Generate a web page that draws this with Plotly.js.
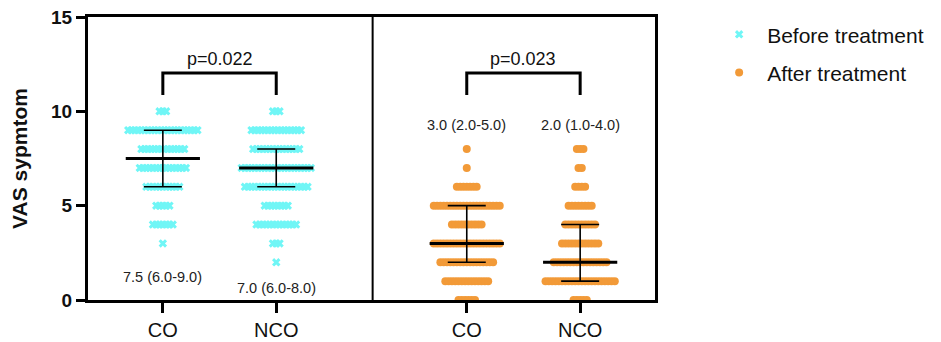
<!DOCTYPE html>
<html>
<head>
<meta charset="utf-8">
<script src="https://cdn.plot.ly/plotly-3.0.1.min.js"></script>
<style>html,body{margin:0;padding:0;background:#fff;}#chart{width:941px;height:342px;}</style>
</head>
<body>
<div id="chart"></div>
<script>
// ---- data ----
const groupLabels = ['CO', 'NCO', 'CO', 'NCO'];
const groupPos = [1, 2, 3.68, 4.68];
const vasLevels = [0, 1, 2, 3, 4, 5, 6, 7, 8, 9, 10];
// number of patients at each VAS level (index = VAS score)
const beforeCO  = [0, 0, 0, 1, 7, 5, 11, 15, 14, 22, 3];
const beforeNCO = [0, 0, 1, 3, 13, 8, 20, 22, 15, 16, 3];
const afterCO   = [6, 14, 17, 21, 10, 21, 7, 1, 1, 0, 0];
const afterNCO  = [5, 22, 17, 12, 10, 8, 4, 2, 3, 0, 0];
const medians = [7.5, 7.0, 3.0, 2.0];
const q1 = [6.0, 6.0, 2.0, 1.0];
const q3 = [9.0, 8.0, 5.0, 4.0];
const summaryText = ['7.5 (6.0-9.0)', '7.0 (6.0-8.0)', '3.0 (2.0-5.0)', '2.0 (1.0-4.0)'];
const pValues = ['p=0.022', 'p=0.023'];

const CYAN = '#70F6F6';
const ORANGE = '#F29A38';
const STEP = 3.3 / 113.5; // horizontal spacing of points (axis units)

function swarm(counts, center) {
  const xs = [], ys = [];
  counts.forEach((n, k) => {
    for (let i = 0; i < n; i++) {
      xs.push(center + (i - (n - 1) / 2) * STEP);
      ys.push(vasLevels[k]);
    }
  });
  return {xs, ys};
}

const sets = [beforeCO, beforeNCO, afterCO, afterNCO];
const traces = [];
sets.forEach((counts, g) => {
  const s = swarm(counts, groupPos[g]);
  const before = g < 2;
  traces.push({
    type: 'scatter', mode: 'markers', x: s.xs, y: s.ys,
    name: before ? 'Before treatment' : 'After treatment',
    legendgroup: before ? 'b' : 'a',
    showlegend: g === 0 || g === 2,
    marker: before
      ? {symbol: 'x', size: 7.5, color: CYAN, line: {width: 0}}
      : {symbol: 'circle', size: 8, color: ORANGE, line: {width: 0}},
    hoverinfo: 'skip'
  });
});
// medians with interquartile range
traces.push({
  type: 'scatter', mode: 'markers', x: groupPos, y: medians, showlegend: false,
  marker: {symbol: 'line-ew', size: 53, line: {width: 3, color: '#000'}},
  error_y: {type: 'data', symmetric: false,
    array: q3.map((v, i) => v - medians[i]),
    arrayminus: medians.map((v, i) => v - q1[i]),
    width: 19, thickness: 1.6, color: '#000'},
  hoverinfo: 'skip'
});

const shapes = [
  {type: 'line', xref: 'x', yref: 'paper', x0: 2.85, x1: 2.85, y0: 0, y1: 1, line: {color: '#000', width: 2}}
];
const bracketTop = 12.03, bracketEnd = 10.86;
[[0, 1], [2, 3]].forEach(([a, b]) => {
  shapes.push({type: 'path', xref: 'x', yref: 'y',
    path: `M${groupPos[a]},${bracketEnd} L${groupPos[a]},${bracketTop} L${groupPos[b]},${bracketTop} L${groupPos[b]},${bracketEnd}`,
    line: {color: '#000', width: 3}});
});

const annotations = [];
[[0, 1], [2, 3]].forEach(([a, b], k) => {
  annotations.push({xref: 'x', yref: 'y', x: (groupPos[a] + groupPos[b]) / 2, y: bracketTop,
    yanchor: 'bottom', yshift: 2, text: pValues[k], showarrow: false,
    font: {size: 18, color: '#111'}});
});
const summaryY = [1.22, 0.64, 9.27, 9.27];
summaryText.forEach((t, i) => {
  annotations.push({xref: 'x', yref: 'y', x: groupPos[i], y: summaryY[i], text: t,
    showarrow: false, font: {size: 14.5, color: '#222'}});
});

const layout = {
  width: 941, height: 342,
  margin: {l: 88, r: 286, t: 17, b: 42, pad: 0},
  paper_bgcolor: '#fff', plot_bgcolor: '#fff',
  font: {family: 'Liberation Sans, Arial, sans-serif', color: '#000'},
  showlegend: true,
  legend: {x: 1.099, xanchor: 'left', y: 1.01, yanchor: 'top', font: {size: 21, color: '#111'},
    tracegroupgap: 8, itemwidth: 46, bgcolor: 'rgba(0,0,0,0)'},
  xaxis: {range: [0.34, 5.34], tickmode: 'array', tickvals: groupPos, ticktext: groupLabels,
    showgrid: false, zeroline: false, showline: true, linewidth: 3, linecolor: '#000', mirror: true,
    ticks: 'outside', ticklen: 10, tickwidth: 3, tickcolor: '#000',
    tickfont: {size: 20, color: '#111'}},
  yaxis: {range: [0, 15], tickmode: 'array', tickvals: [0, 5, 10, 15],
    showgrid: false, zeroline: false, showline: true, linewidth: 3, linecolor: '#000', mirror: true,
    ticks: 'outside', ticklen: 9, tickwidth: 3, tickcolor: '#000',
    tickfont: {size: 19, weight: 'bold', color: '#111'},
    title: {text: 'VAS sypmtom', font: {size: 21, weight: 'bold', color: '#111'}, standoff: 18}},
  shapes, annotations
};

Plotly.newPlot('chart', traces, layout, {displayModeBar: false, staticPlot: true});
</script>
</body>
</html>
